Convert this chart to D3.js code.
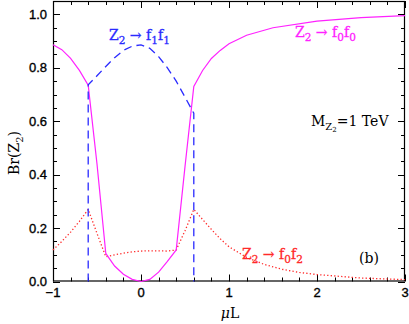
<!DOCTYPE html>
<html>
<head>
<meta charset="utf-8">
<script src="https://cdn.jsdelivr.net/npm/d3@7"></script>
<style>
  body { margin: 0; background: #fff; }
  svg { display: block; }
  .tick-label { font-family: "Liberation Sans", Arial, sans-serif; font-size: 13px; fill: #000; stroke: #000; stroke-width: 0.35; }
  .serif { font-family: "DejaVu Serif", "Liberation Serif", serif; }
</style>
</head>
<body>
<div id="chart"></div>
<script>
// Z2 -> f0 f0 (magenta, solid)
var muF0F0 = [-1, -0.9, -0.8, -0.7, -0.6, -0.5, -0.4, -0.3, -0.2, -0.1, 0, 0.1, 0.2, 0.3, 0.4, 0.5, 0.6, 0.7, 0.8, 0.9, 1.0, 1.2, 1.5, 2.0, 2.5, 3.0];
var brF0F0 = [0.886, 0.868, 0.835, 0.79, 0.735, 0.44, 0.105, 0.058, 0.027, 0.008, 0.0, 0.008, 0.035, 0.075, 0.118, 0.43, 0.73, 0.79, 0.835, 0.865, 0.89, 0.922, 0.95, 0.975, 0.988, 0.995];

// Z2 -> f1 f1 (blue, dashed), drops to zero outside |muL| < 0.6
var muF1F1 = [-0.6, -0.6, -0.5, -0.4, -0.3, -0.2, -0.1, 0, 0.1, 0.2, 0.3, 0.4, 0.5, 0.6, 0.6];
var brF1F1 = [0, 0.736, 0.77, 0.805, 0.838, 0.865, 0.881, 0.886, 0.873, 0.842, 0.8, 0.75, 0.69, 0.63, 0];

// Z2 -> f0 f2 (red, dotted)
var muF0F2 = [-1, -0.9, -0.8, -0.7, -0.6, -0.5, -0.4, -0.3, -0.2, -0.1, 0, 0.1, 0.2, 0.3, 0.4, 0.5, 0.6, 0.7, 0.8, 0.9, 1.0, 1.2, 1.4, 1.6, 1.8, 2.0, 2.5, 3.0];
var brF0F2 = [0.118, 0.15, 0.185, 0.225, 0.27, 0.18, 0.093, 0.1, 0.106, 0.111, 0.114, 0.115, 0.115, 0.114, 0.118, 0.19, 0.27, 0.232, 0.195, 0.16, 0.13, 0.09, 0.064, 0.046, 0.034, 0.026, 0.013, 0.007];

var xTicks = [-1, 0, 1, 2, 3];
var yTicks = [0.0, 0.2, 0.4, 0.6, 0.8, 1.0];

var width = 409,
    height = 324;
var margin = {left: 53, right: 4, top: 1, bottom: 42.5};

var x = d3.scaleLinear()
          .domain([-1, 3])
          .range([margin.left, width - margin.right]);
var y = d3.scaleLinear()
          .domain([0, 1.05])
          .range([height - margin.bottom, margin.top]);

var svg = d3.select('#chart')
  .append('svg')
    .attr('width', width)
    .attr('height', height);

var x0 = x.range()[0], x1 = x.range()[1],
    y0 = y.range()[0], y1 = y.range()[1];

// minor / major ticks on all four sides, pointing inwards
var xMinor = d3.range(-1, 3.001, 0.2).map(function(d){ return +d.toFixed(2); });
var yMinor = d3.range(0, 1.0501, 0.05).map(function(d){ return +d.toFixed(2); });

function isMajor(v, step) { return Math.abs(v / step - Math.round(v / step)) < 1e-6; }

var ticks = svg.append('g').attr('stroke', '#000').attr('stroke-width', 1);

xMinor.forEach(function(v){
  var len = isMajor(v, 1) ? 7 : 4;
  var px = Math.round(x(v)) + 0.5;
  ticks.append('line').attr('x1', px).attr('x2', px).attr('y1', y0).attr('y2', y0 - len);
  ticks.append('line').attr('x1', px).attr('x2', px).attr('y1', y1).attr('y2', y1 + len);
});
yMinor.forEach(function(v){
  var len = isMajor(v, 0.2) ? 7 : 4;
  var py = Math.round(y(v)) + 0.5;
  ticks.append('line').attr('x1', x0).attr('x2', x0 + len).attr('y1', py).attr('y2', py);
  ticks.append('line').attr('x1', x1).attr('x2', x1 - len).attr('y1', py).attr('y2', py);
});

// frame
svg.append('rect')
   .attr('x', x0 + 0.5)
   .attr('y', y1 + 0.5)
   .attr('width', x1 - x0 - 1)
   .attr('height', y0 - y1 - 1)
   .style('fill', 'none')
   .style('stroke', '#000')
   .style('stroke-width', 1.2);

// tick labels
svg.selectAll('.xlab')
   .data(xTicks)
   .enter()
   .append('text')
   .attr('class', 'tick-label')
   .attr('x', function(d){ return x(d); })
   .attr('y', 297)
   .attr('text-anchor', 'middle')
   .text(function(d){ return d < 0 ? '\u2212' + Math.abs(d) : d; });

svg.selectAll('.ylab')
   .data(yTicks)
   .enter()
   .append('text')
   .attr('class', 'tick-label')
   .attr('x', 47)
   .attr('y', function(d){ return y(d) + 4.5; })
   .attr('text-anchor', 'end')
   .text(d3.format('.1f'));

// curves
function pts(xs, ys) { return xs.map(function(v, i){ return [v, ys[i]]; }); }

var line = d3.line()
             .x(function(d){ return x(d[0]); })
             .y(function(d){ return y(d[1]); });

svg.append('path')
   .datum(pts(muF0F2, brF0F2))
   .attr('d', line)
   .style('fill', 'none')
   .style('stroke', '#ff2a2a')
   .style('stroke-width', 1.3)
   .style('stroke-dasharray', '1.3,2.2');

svg.append('path')
   .datum(pts(muF0F0, brF0F0))
   .attr('d', line)
   .style('fill', 'none')
   .style('stroke', '#ff22ff')
   .style('stroke-width', 1.2);

svg.append('path')
   .datum(pts(muF1F1, brF1F1))
   .attr('d', line)
   .style('fill', 'none')
   .style('stroke', '#2a2aff')
   .style('stroke-width', 1.3)
   .style('stroke-dasharray', '8,5');

// labels with subscripts
function label(parts, px, py, color, size) {
  var t = svg.append('text')
             .attr('class', 'serif')
             .attr('x', px)
             .attr('y', py)
             .style('font-size', size + 'px')
             .style('fill', color)
             .style('stroke', color)
             .style('stroke-width', 0.3);
  var shifted = false;
  parts.forEach(function(p){
    var s = t.append('tspan').text(p[0]);
    if (p[1] && !shifted) { s.attr('dy', 3.5).style('font-size', (size * 0.75) + 'px'); shifted = true; }
    else if (p[1]) { s.style('font-size', (size * 0.75) + 'px'); }
    else if (shifted) { s.attr('dy', -3.5); shifted = false; }
  });
  return t;
}

label([['Z'], ['2', 1], ['  \u2192  '], ['f'], ['1', 1], ['f'], ['1', 1]], 109, 40, '#2a2aff', 14);
label([['Z'], ['2', 1], ['  \u2192  '], ['f'], ['0', 1], ['f'], ['0', 1]], 295, 37, '#ff22ff', 14);
label([['Z'], ['2', 1], ['  \u2192  '], ['f'], ['0', 1], ['f'], ['2', 1]], 242, 259, '#ff2a2a', 14);

var m = svg.append('text')
   .attr('class', 'serif')
   .attr('x', 311)
   .attr('y', 126)
   .style('font-size', '14px');
m.append('tspan').text('M');
m.append('tspan').attr('dy', 3.5).style('font-size', '10px').text('Z');
m.append('tspan').attr('dy', 2).style('font-size', '7px').text('2');
m.append('tspan').attr('dy', -5.5).text('=1  TeV');

svg.append('text')
   .attr('class', 'serif')
   .attr('x', 359)
   .attr('y', 263)
   .style('font-size', '14px')
   .text('(b)');

// axis titles
var xt = svg.append('text')
   .attr('class', 'serif')
   .attr('x', 230)
   .attr('y', 318)
   .attr('text-anchor', 'middle')
   .style('font-size', '14px');
xt.append('tspan').style('font-style', 'italic').text('\u03bc');
xt.append('tspan').text('L');

var yt = svg.append('text')
   .attr('class', 'serif')
   .attr('transform', 'translate(19,153) rotate(-90)')
   .attr('text-anchor', 'middle')
   .style('font-size', '14px');
yt.append('tspan').text('Br(Z');
yt.append('tspan').attr('dy', 3.5).style('font-size', '10px').text('2');
yt.append('tspan').attr('dy', -3.5).text(')');
</script>
</body>
</html>
